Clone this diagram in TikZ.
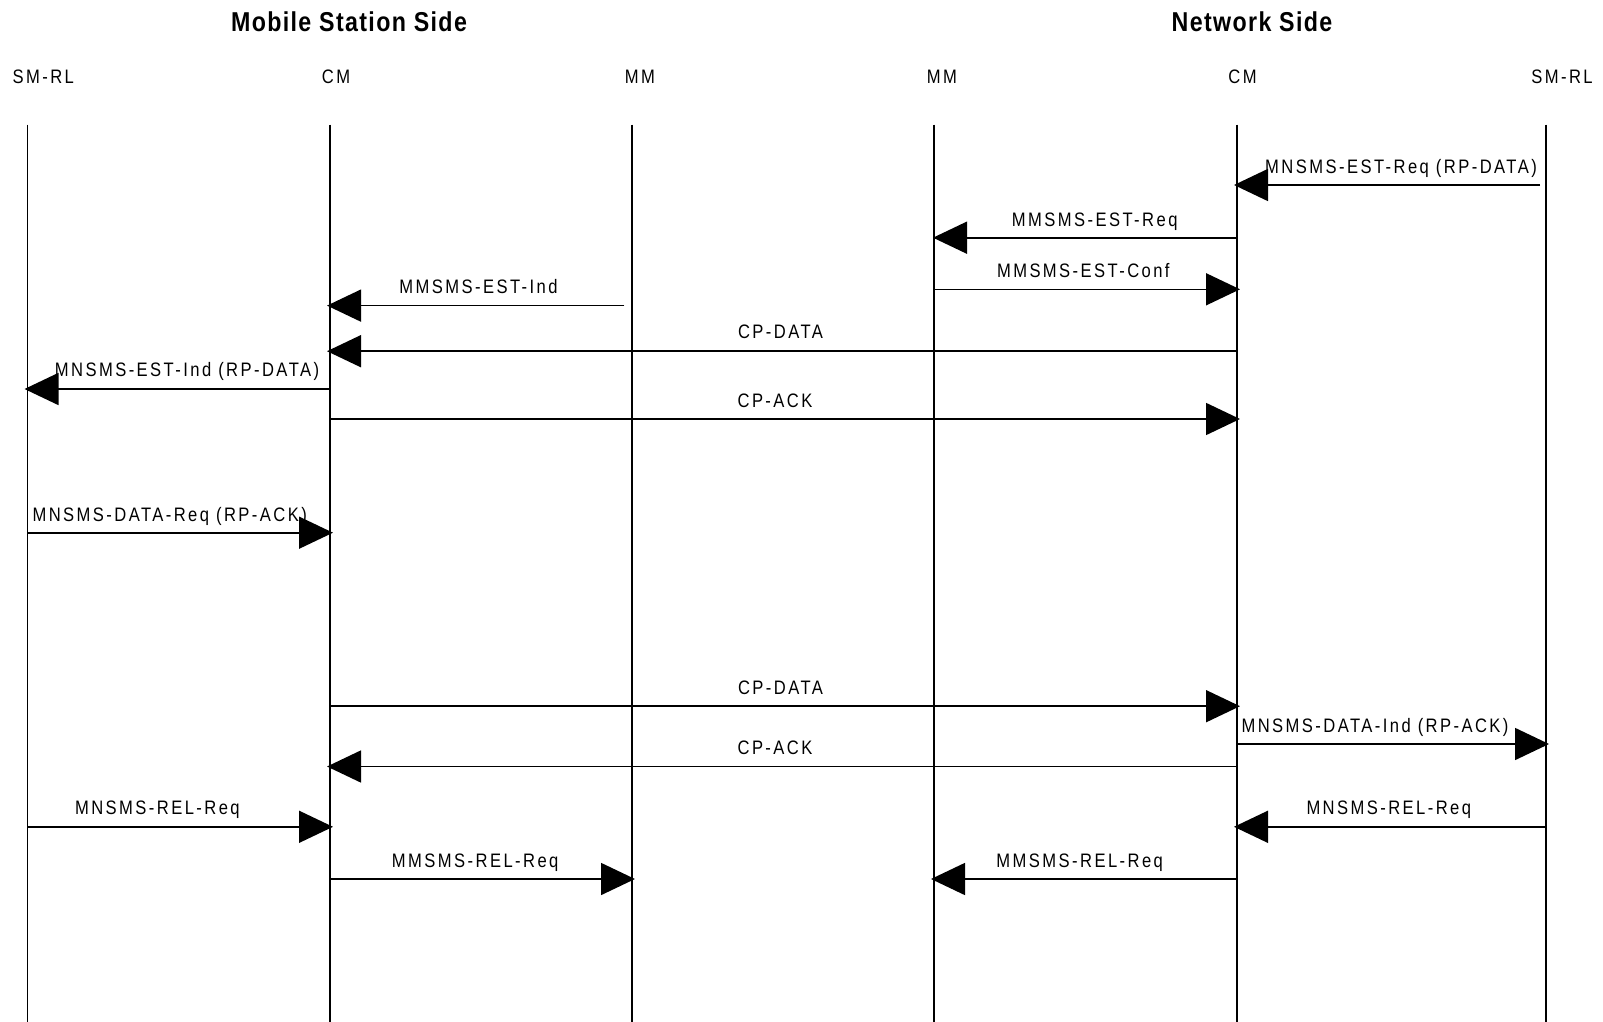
\documentclass[tikz,border=0pt]{standalone}
\usepackage{fontspec}
\setmainfont{Liberation Sans}[FakeStretch=0.85,LetterSpace=12.5]
\newfontfamily\headfont{Liberation Sans}[FakeStretch=0.85,LetterSpace=5]
\usetikzlibrary{arrows.meta}

\begin{document}
\begin{tikzpicture}[x=1pt,y=-1pt]
		\useasboundingbox (0,0) rectangle (1603,1022);

		% column titles
		\begin{scope}[every node/.style={anchor=base,inner sep=0pt,font=\headfont\bfseries\fontsize{27.3}{31}\selectfont}]
			\node (msside) at (349,32) {Mobile Station Side};
			\node (nwside) at (1252,32) {Network Side};
		\end{scope}

		% entities
		\begin{scope}[every node/.style={anchor=base,inner sep=0pt,font=\fontsize{19.5}{23}\selectfont}]
			\node (smrlA) at (43.3,83.3) {SM-RL};
			\node (cmA) at (336,83.3) {CM};
			\node (mmA) at (640,83.3) {MM};
			\node (mmB) at (942,83.3) {MM};
			\node (cmB) at (1242.5,83.3) {CM};
			\node (smrlB) at (1562,83.3) {SM-RL};
		\end{scope}

		% lifelines
		\foreach \name/\x in {smrlL/27.5,cmL/330,mmL/632,mmR/934,cmR/1237,smrlR/1546} {
			\coordinate (\name) at (\x,124.7);
			\coordinate (\name end) at (\x,1022);
			\draw[line width=1.6pt] (\name) -- (\name end);
		}

		% message labels
		\begin{scope}[every node/.style={anchor=base,inner sep=0pt,font=\fontsize{19.5}{23}\selectfont}]
			\node (l1) at (1401,173) {MNSMS-EST-Req (RP-DATA)};
			\node (l2) at (1094.7,226) {MMSMS-EST-Req};
			\node (l3) at (1083.3,277.3) {MMSMS-EST-Conf};
			\node (l4) at (478.5,293.6) {MMSMS-EST-Ind};
			\node (l5) at (780.5,338.8) {CP-DATA};
			\node (l6) at (187,376.7) {MNSMS-EST-Ind (RP-DATA)};
			\node (l7) at (775,407) {CP-ACK};
			\node (l8) at (169.7,521.2) {MNSMS-DATA-Req (RP-ACK)};
			\node (l9) at (780.5,694.2) {CP-DATA};
			\node (l10) at (1375,732.3) {MNSMS-DATA-Ind (RP-ACK)};
			\node (l11) at (775,754.5) {CP-ACK};
			\node (l12) at (157.4,814.8) {MNSMS-REL-Req};
			\node (l13) at (1388.8,814.8) {MNSMS-REL-Req};
			\node (l14) at (475.2,867) {MMSMS-REL-Req};
			\node (l15) at (1079.7,867) {MMSMS-REL-Req};
		\end{scope}

		% messages
		\begin{scope}[every edge/.style={draw=black,line width=1.6pt,
		              -{Triangle[length=34pt,width=32pt]},shorten >=-3pt}]
			\path (smrlR |- 0,185) edge[shorten <=6pt] (cmR |- 0,185);
			\path (cmR |- 0,237.7) edge[shorten >=-1pt] (mmR |- 0,237.7);
			\path (mmR |- 0,289.3) edge (cmR |- 0,289.3);
			\path (mmL |- 0,305.6) edge[shorten <=7.6pt] (cmL |- 0,305.6);
			\path (cmR |- 0,351.2) edge (cmL |- 0,351.2);
			\path (cmL |- 0,389) edge (smrlL |- 0,389);
			\path (cmL |- 0,419) edge (cmR |- 0,419);
			\path (smrlL |- 0,532.7) edge (cmL |- 0,532.7);
			\path (cmL |- 0,706.2) edge (cmR |- 0,706.2);
			\path (cmR |- 0,744) edge (smrlR |- 0,744);
			\path (cmR |- 0,766.5) edge (cmL |- 0,766.5);
			\path (smrlL |- 0,826.8) edge (cmL |- 0,826.8);
			\path (smrlR |- 0,826.8) edge (cmR |- 0,826.8);
			\path (cmL |- 0,879) edge (mmL |- 0,879);
			\path (cmR |- 0,879) edge (mmR |- 0,879);
		\end{scope}
\end{tikzpicture}
\end{document}
